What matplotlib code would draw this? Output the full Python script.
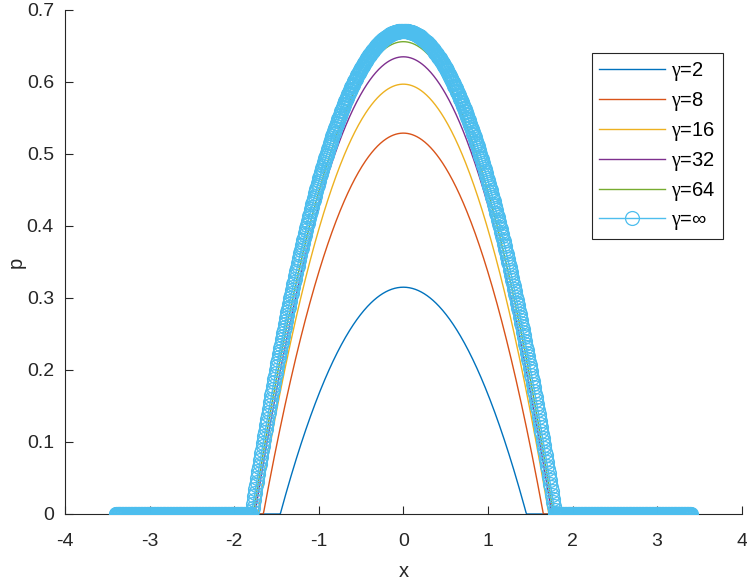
import numpy as np
import matplotlib
matplotlib.use("Agg")
import matplotlib.pyplot as plt

plt.rcParams['font.family'] = ['Liberation Sans', 'DejaVu Sans']
plt.rcParams['mathtext.fontset'] = 'custom'
plt.rcParams['mathtext.rm'] = 'Liberation Serif'
plt.rcParams['mathtext.it'] = 'Liberation Serif:italic'

# Data
gamma_labels = ['2', '8', '16', '32', '64', '\u221e']
peak_heights = [0.315, 0.529, 0.597, 0.635, 0.656, 0.671]   # p at x = 0
support_edges = [1.455, 1.655, 1.72, 1.755, 1.775, 1.795]   # where p reaches 0
x_min, x_max, x_step = -3.4, 3.4, 0.007
x_ticks = [-4, -3, -2, -1, 0, 1, 2, 3, 4]
y_ticks = [0, 0.1, 0.2, 0.3, 0.4, 0.5, 0.6, 0.7]

colors = ['#0072BD', '#D95319', '#EDB120', '#7E2F8E', '#77AC30', '#4DBEEE']
axis_col = '#262626'

W, H = 747, 580
fig = plt.figure(figsize=(W / 100, H / 100), dpi=100)
ax = fig.add_axes([65 / W, 1 - 514 / H, (741.7 - 65) / W, (514 - 10) / H])

x = np.arange(x_min, x_max + x_step / 2, x_step)
for i, (lab, h, a) in enumerate(zip(gamma_labels, peak_heights, support_edges)):
    p = np.clip(h * (1 - (x / a) ** 2), 0, None)
    label = r'$\mathrm{\gamma}$=' + lab
    if lab == '\u221e':
        ax.plot(x, p, color=colors[i], lw=1.0, marker='o', ms=10,
                mfc='none', mec=colors[i], mew=0.9, label=label, zorder=3)
    else:
        ax.plot(x, p, color=colors[i], lw=1.0, label=label, zorder=2)

ax.set_xlim(-4, 4)
ax.set_ylim(0, 0.7)
ax.set_xticks(x_ticks)
ax.set_xticklabels([str(t) for t in x_ticks])
ax.set_yticks(y_ticks)
ax.set_yticklabels(['0'] + ['%.1f' % t for t in y_ticks[1:]])
for s in ['top', 'right']:
    ax.spines[s].set_visible(False)
for s in ['left', 'bottom']:
    ax.spines[s].set_color(axis_col)
    ax.spines[s].set_linewidth(0.8)
ax.tick_params(direction='in', length=6, width=0.8, colors=axis_col,
               labelsize=14)
ax.tick_params(axis='x', pad=14)
ax.tick_params(axis='y', pad=8)
ax.set_xlabel('x', fontsize=14.5, color=axis_col, labelpad=8)
ax.set_ylabel('p', fontsize=14.5, color=axis_col)
ax.yaxis.set_label_coords(-0.058, 0.5)

leg = ax.legend(loc='upper right', bbox_to_anchor=(723 / W, 1 - 53 / H),
                bbox_transform=fig.transFigure, fontsize=14.5, handlelength=3.3,
                handletextpad=0.3, borderpad=0.35, labelspacing=0.35,
                fancybox=False, framealpha=1, edgecolor=axis_col,
                borderaxespad=0)
leg.get_frame().set_linewidth(0.8)

fig.savefig('out.png', dpi=100)
